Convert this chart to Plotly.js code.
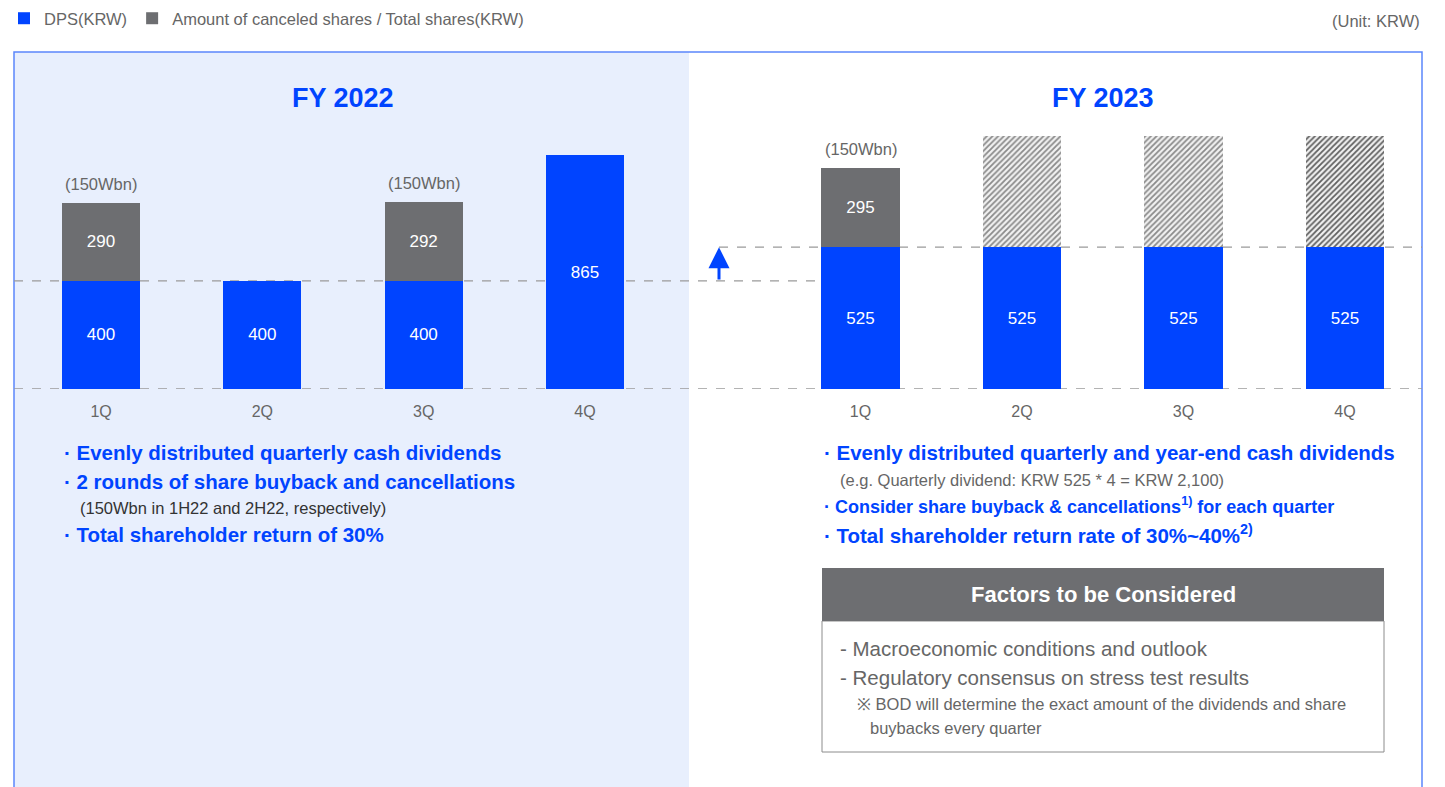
<!DOCTYPE html>
<html>
<head>
<meta charset="utf-8">
<script src="https://cdn.plot.ly/plotly-3.0.1.min.js"></script>
<style>html,body{margin:0;padding:0;background:#fff;}#chart{width:1445px;height:787px;}</style>
</head>
<body>
<div id="chart"></div>
<script>
// ---- data ----
const quarters = ['1Q', '2Q', '3Q', '4Q'];
const dps2022 = [400, 400, 400, 865];
const canceled2022 = [290, null, 292, null];
const dps2023 = [525, 525, 525, 525];
const canceled2023 = [295, null, null, null];
const planned2023 = [null, 410, 410, 410]; // undetermined buyback (hatched placeholder, estimated height)
const buybackLabel2022 = ['(150Wbn)', null, '(150Wbn)', null];
const buybackLabel2023 = ['(150Wbn)', null, null, null];
const prevDpsLevel = 400;
const newDpsLevel = 525;

// ---- helpers ----
const W = 1445, H = 787;
const px = x => x / W;
const py = y => 1 - y / H;
const BLUE = '#0044ff';
const GRAY = '#6d6e71';
const FONT = 'Liberation Sans, Arial, sans-serif';

const barText = {color: '#ffffff', size: 17, family: FONT};

const traces = [
  {type: 'bar', x: quarters, y: dps2022, xaxis: 'x', yaxis: 'y', name: 'DPS(KRW)',
   legendgroup: 'dps', marker: {color: BLUE, line: {width: 0}},
   texttemplate: '%{y}', textposition: 'inside', insidetextanchor: 'middle', textangle: 0,
   constraintext: 'none', textfont: barText, hoverinfo: 'x+y'},
  {type: 'bar', x: quarters, y: canceled2022, xaxis: 'x', yaxis: 'y',
   name: 'Amount of canceled shares / Total shares(KRW)', legendgroup: 'can',
   marker: {color: GRAY, line: {width: 0}},
   texttemplate: '%{y}', textposition: 'inside', insidetextanchor: 'middle', textangle: 0,
   constraintext: 'none', textfont: barText, hoverinfo: 'x+y'},
  {type: 'bar', x: quarters, y: dps2023, xaxis: 'x2', yaxis: 'y', name: 'DPS(KRW)',
   legendgroup: 'dps', showlegend: false, marker: {color: BLUE, line: {width: 0}},
   texttemplate: '%{y}', textposition: 'inside', insidetextanchor: 'middle', textangle: 0,
   constraintext: 'none', textfont: barText, hoverinfo: 'x+y'},
  {type: 'bar', x: quarters, y: canceled2023, xaxis: 'x2', yaxis: 'y',
   name: 'Amount of canceled shares / Total shares(KRW)', legendgroup: 'can', showlegend: false,
   marker: {color: GRAY, line: {width: 0}},
   texttemplate: '%{y}', textposition: 'inside', insidetextanchor: 'middle', textangle: 0,
   constraintext: 'none', textfont: barText, hoverinfo: 'x+y'},
  {type: 'bar', x: quarters, y: planned2023, xaxis: 'x2', yaxis: 'y',
   name: 'To be determined', showlegend: false,
   marker: {color: '#ffffff', line: {width: 0},
            pattern: {shape: '/', size: 4, solidity: 0.45, bgcolor: '#f2f2f2',
                      fgcolor: ['#8a8a8a', '#8a8a8a', '#8a8a8a', '#5f5f5f']}},
   hoverinfo: 'x'}
];

// ---- annotations ----
const ann = [];
function txt(x, y, text, size, color, opts) {
  ann.push(Object.assign({xref: 'paper', yref: 'paper', x: px(x), y: py(y), text: text,
    showarrow: false, xanchor: 'left', yanchor: 'middle',
    font: {family: FONT, size: size, color: color}}, opts || {}));
}
txt(1422, 21, '(Unit: KRW)', 16.5, '#666666', {xanchor: 'right'});
txt(343, 98, '<b>FY 2022</b>', 27, BLUE, {xanchor: 'center'});
txt(1103, 98, '<b>FY 2023</b>', 27, BLUE, {xanchor: 'center'});

txt(62, 452, '<b>· Evenly distributed quarterly cash dividends</b>', 20.5, BLUE);
txt(62, 481, '<b>· 2 rounds of share buyback and cancellations</b>', 20.5, BLUE);
txt(78, 508, '(150Wbn in 1H22 and 2H22, respectively)', 16.5, '#333333');
txt(62, 534, '<b>· Total shareholder return of 30%</b>', 20.5, BLUE);

txt(822, 452, '<b>· Evenly distributed quarterly and year-end cash dividends</b>', 20.5, BLUE);
txt(838, 480, '(e.g. Quarterly dividend: KRW 525 * 4 = KRW 2,100)', 16.5, '#666666');
txt(822, 505, '<b>· Consider share buyback &amp; cancellations<sup>1)</sup> for each quarter</b>', 18, BLUE);
txt(822, 534, '<b>· Total shareholder return rate of 30%~40%<sup>2)</sup></b>', 20.5, BLUE);

txt(1103, 594, '<b>Factors to be Considered</b>', 22, '#ffffff', {xanchor: 'center'});
txt(838, 648, '- Macroeconomic conditions and outlook', 20.5, '#666666');
txt(838, 677, '- Regulatory consensus on stress test results', 20.5, '#666666');
txt(855, 704, '※ BOD will determine the exact amount of the dividends and share', 16.5, '#666666');
txt(868, 728, 'buybacks every quarter', 16.5, '#666666');

// buyback labels above gray bars (data-driven)
function addBuybackLabels(labels, dps, can, xa) {
  labels.forEach((lab, i) => {
    if (!lab) return;
    ann.push({xref: xa, yref: 'y', x: quarters[i], y: dps[i] + (can[i] || 0), text: lab,
      showarrow: false, xanchor: 'center', yanchor: 'bottom', yshift: 8,
      font: {family: FONT, size: 16.5, color: '#666666'}});
  });
}
addBuybackLabels(buybackLabel2022, dps2022, canceled2022, 'x');
addBuybackLabels(buybackLabel2023, dps2023, canceled2023, 'x2');

// increase arrow from previous DPS level to new DPS level
ann.push({xref: 'paper', yref: 'y', x: px(719), y: newDpsLevel, axref: 'pixel', ax: 0,
  ayref: 'y', ay: prevDpsLevel, showarrow: true, arrowhead: 2, arrowsize: 1.4, arrowwidth: 3,
  arrowcolor: BLUE, text: '', standoff: 0, startstandoff: 0});

// ---- shapes ----
const shapes = [
  {type: 'rect', xref: 'paper', yref: 'paper', x0: px(14), x1: px(689), y0: py(52), y1: py(800),
   fillcolor: '#e8effd', line: {width: 0}, layer: 'below'},
  {type: 'rect', xref: 'paper', yref: 'paper', x0: px(14), x1: px(1422), y0: py(52), y1: py(800),
   fillcolor: 'rgba(0,0,0,0)', line: {color: '#5b86fb', width: 1.5}, layer: 'below'},
  {type: 'line', xref: 'paper', yref: 'y', x0: px(14), x1: px(820), y0: prevDpsLevel, y1: prevDpsLevel,
   line: {color: '#9a9a9a', width: 1.3, dash: 'dash'}, layer: 'below'},
  {type: 'line', xref: 'paper', yref: 'y', x0: px(719), x1: px(1422), y0: newDpsLevel, y1: newDpsLevel,
   line: {color: '#9a9a9a', width: 1.3, dash: 'dash'}, layer: 'below'},
  {type: 'line', xref: 'paper', yref: 'y', x0: px(14), x1: px(1422), y0: 0, y1: 0,
   line: {color: '#9a9a9a', width: 1.3, dash: 'dash'}, layer: 'below'},
  // factors box
  {type: 'rect', xref: 'paper', yref: 'paper', x0: px(822), x1: px(1384), y0: py(621), y1: py(752),
   fillcolor: '#ffffff', line: {color: '#8c8c8c', width: 1}},
  {type: 'rect', xref: 'paper', yref: 'paper', x0: px(822), x1: px(1384), y0: py(568), y1: py(621),
   fillcolor: GRAY, line: {width: 0}}
];

const axisX = {type: 'category', showgrid: false, zeroline: false, showline: false, ticks: '',
  tickfont: {family: FONT, size: 16, color: '#666666'}, ticklabelstandoff: 11, fixedrange: true};

const layout = {
  width: W, height: H,
  margin: {l: 0, r: 0, t: 0, b: 0, pad: 0},
  paper_bgcolor: '#ffffff', plot_bgcolor: 'rgba(0,0,0,0)',
  barmode: 'stack', bargap: 0.516,
  font: {family: FONT},
  showlegend: true,
  legend: {orientation: 'h', x: px(4), y: py(1), xanchor: 'left', yanchor: 'top',
    font: {family: FONT, size: 16.5, color: '#666666'}, bgcolor: 'rgba(0,0,0,0)',
    itemwidth: 30, traceorder: 'normal', itemclick: false, itemdoubleclick: false},
  xaxis: Object.assign({}, axisX, {domain: [px(20.4), px(665.6)], anchor: 'y'}),
  xaxis2: Object.assign({}, axisX, {domain: [px(779.75), px(1425.75)], anchor: 'y'}),
  yaxis: {domain: [py(389), py(100)], range: [0, 1070], visible: false, fixedrange: true},
  annotations: ann,
  shapes: shapes
};

Plotly.newPlot('chart', traces, layout, {displayModeBar: false, staticPlot: true});
</script>
</body>
</html>
